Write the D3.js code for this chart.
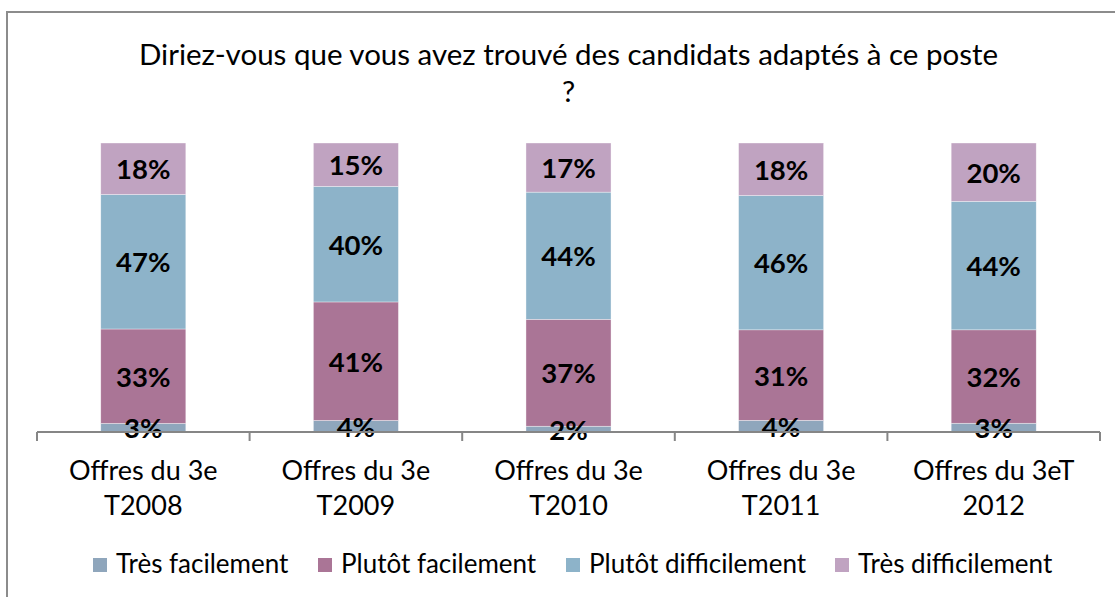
<!DOCTYPE html>
<html><head><meta charset="utf-8">
<script src="https://cdn.jsdelivr.net/npm/d3@7"></script>
<style>body{margin:0;background:#fff;}svg{display:block;}</style>
</head><body>
<svg id="c" width="1115" height="597"></svg>
<script>
const categories = [["Offres du 3e","T2008"],["Offres du 3e","T2009"],["Offres du 3e","T2010"],["Offres du 3e","T2011"],["Offres du 3eT","2012"]];
const seriesNames = ["Très facilement","Plutôt facilement","Plutôt difficilement","Très difficilement"];
const tresFacilement = [3,4,2,4,3];
const plutotFacilement = [33,41,37,31,32];
const plutotDifficilement = [47,40,44,46,44];
const tresDifficilement = [18,15,17,18,20];
const colors = ["#8FA6BC","#AA7596","#8DB3C9","#C0A3C1"];
const title = ["Diriez-vous que vous avez trouvé des candidats adaptés à ce poste","?"];

const FONT = "Lato, 'Open Sans', sans-serif";
const svg = d3.select("#c");
svg.append("rect").attr("x",7).attr("y",12).attr("width",1200).attr("height",700)
  .attr("fill","#fff").attr("stroke","#8c8c8c").attr("stroke-width",2);

const seriesVals = [tresFacilement, plutotFacilement, plutotDifficilement, tresDifficilement];
const data = categories.map((c,i)=>{
  const o = {i};
  const tot = d3.sum(seriesVals, s=>s[i]);
  seriesNames.forEach((n,k)=>{ o[n] = seriesVals[k][i]/tot; });
  return o;
});
const stack = d3.stack().keys(seriesNames)(data);

const x = d3.scaleBand().domain(d3.range(categories.length)).range([37,1100]).paddingInner(0.6).paddingOuter(0.3);
const y = d3.scaleLinear().domain([0,1]).range([432,143]);

stack.forEach((layer,k)=>{
  const g = svg.append("g");
  g.selectAll("rect").data(layer).join("rect")
    .attr("x",d=>x(d.data.i)).attr("width",x.bandwidth())
    .attr("y",d=>y(d[1])).attr("height",d=>y(d[0])-y(d[1]))
    .attr("fill",colors[k]).attr("stroke","#fff").attr("stroke-width",0.6).attr("stroke-opacity",0.6);
});
stack.forEach((layer,k)=>{
  svg.append("g").selectAll("text").data(layer).join("text")
    .attr("x",d=>x(d.data.i)+x.bandwidth()/2)
    .attr("y",d=>(y(d[0])+y(d[1]))/2)
    .attr("dy","0.38em")
    .attr("text-anchor","middle")
    .attr("font-family",FONT).attr("font-weight","bold").attr("font-size",27.5)
    .attr("fill","#000")
    .text(d=>seriesVals[k][d.data.i]+"%");
});

// axis
const step = x.step();
const axisG = svg.append("g");
axisG.append("line").attr("x1",37).attr("x2",1100).attr("y1",432).attr("y2",432).attr("stroke","#868686").attr("stroke-width",2);
d3.range(categories.length+1).forEach(j=>{
  const xx = 37 + j*step;
  axisG.append("line").attr("x1",xx).attr("x2",xx).attr("y1",432).attr("y2",441).attr("stroke","#868686").attr("stroke-width",2);
});
categories.forEach((c,i)=>{
  const t = svg.append("text").attr("text-anchor","middle").attr("font-family",FONT).attr("font-size",27).attr("fill","#000");
  c.forEach((line,li)=>{
    t.append("tspan").attr("x",x(i)+x.bandwidth()/2).attr("y",480+li*35).text(line);
  });
});

// title
const tt = svg.append("text").attr("text-anchor","middle").attr("font-family",FONT).attr("font-size",29.5).attr("fill","#000");
title.forEach((l,i)=>tt.append("tspan").attr("x",568.5).attr("y",65+i*37).text(l));

// legend
const legX = [93, 318, 566, 835];
seriesNames.forEach((n,k)=>{
  svg.append("rect").attr("x",legX[k]).attr("y",558).attr("width",14).attr("height",14).attr("fill",colors[k]);
  svg.append("text").attr("x",legX[k]+23).attr("y",573).attr("font-family",FONT).attr("font-size",26).attr("fill","#000").text(n);
});
</script>
</body></html>
